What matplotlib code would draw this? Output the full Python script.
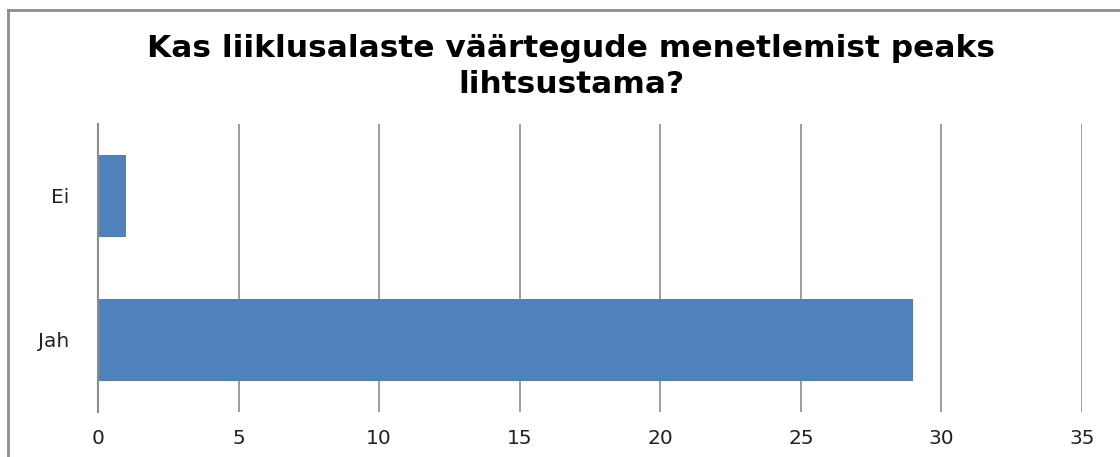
import matplotlib.pyplot as plt
from matplotlib.lines import Line2D

categories = ["Jah", "Ei"]
values = [29, 1]
xticks = [0, 5, 10, 15, 20, 25, 30, 35]
title = "Kas liiklusalaste väärtegude menetlemist peaks\nlihtsustama?"

fig = plt.figure(figsize=(11.2, 4.57), dpi=100)
ax = fig.add_axes([0.0875, 0.0985, 0.8786, 0.6302])

ax.barh(range(len(categories)), values, height=0.57, color="#4F81BD", zorder=3)
ax.set_xlim(0, 35)
ax.set_ylim(-0.5, 1.5)
ax.set_xticks(xticks)
ax.set_yticks(range(len(categories)))
ax.set_yticklabels(categories)

ax.grid(axis="x", color="#8C8C8C", linewidth=1.2, zorder=0)
for s in ["top", "right", "bottom"]:
    ax.spines[s].set_visible(False)
ax.spines["left"].set_color("#8C8C8C")
ax.spines["left"].set_linewidth(1.5)
ax.spines["left"].set_zorder(4)

ax.tick_params(axis="x", length=0, pad=12, labelsize=14.5, colors="#222222")
ax.tick_params(axis="y", length=0, pad=21, labelsize=14.5, colors="#222222")

fig.text(0.51, 0.855, title, ha="center", va="center", fontsize=22.5,
         fontweight="bold", family="DejaVu Sans", linespacing=1.3)

# chart border (only top and left are visible in the crop)
fig.add_artist(Line2D([0.0075, 0.0075], [0, 0.978], color="#8C8C8C", lw=2))
fig.add_artist(Line2D([0.0075, 1.0], [0.978, 0.978], color="#8C8C8C", lw=2))

fig.savefig("out.png", dpi=100)
